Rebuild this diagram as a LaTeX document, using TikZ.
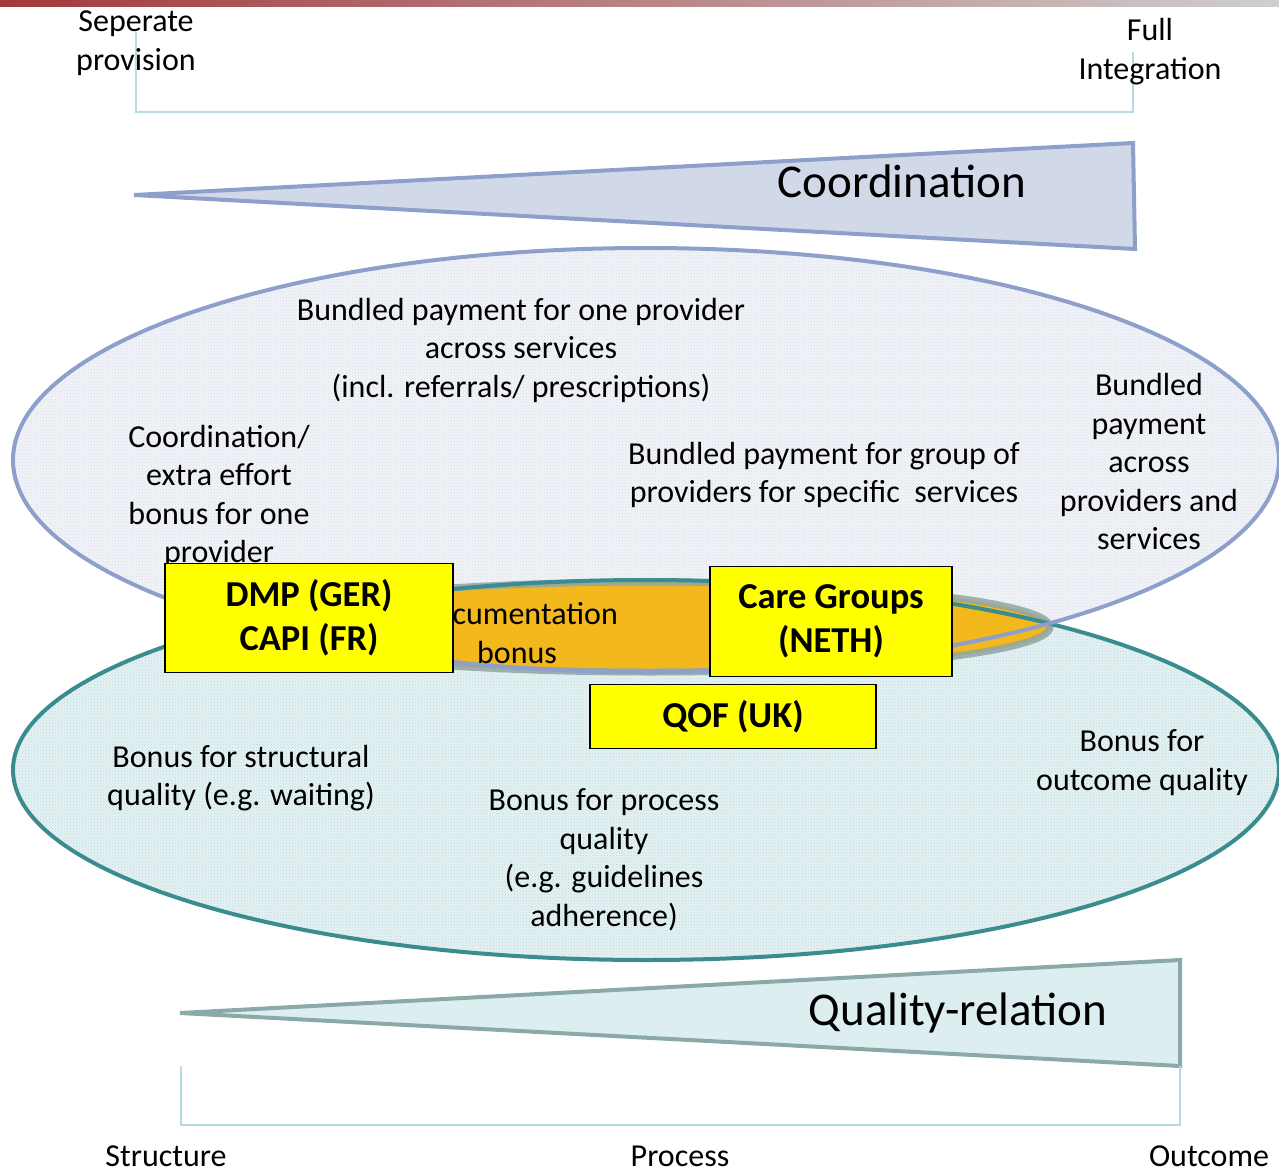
\documentclass[tikz,border=0pt]{standalone}
\usepackage{fontspec}
\setmainfont{Carlito}
\usetikzlibrary{patterns}
\definecolor{barred}{HTML}{A2383B}
\definecolor{bargray}{HTML}{CFCFCF}
\definecolor{bracketline}{HTML}{B5DCE0}
\definecolor{coordfill}{HTML}{D1D8E8}
\definecolor{coordline}{HTML}{8E9FCB}
\definecolor{upperfill}{HTML}{F2F4F8}
\definecolor{upperdots}{HTML}{D3DAE8}
\definecolor{lowerfill}{HTML}{E6F2F3}
\definecolor{lowerdots}{HTML}{B5D8DA}
\definecolor{lowerline}{HTML}{3A8C8E}
\definecolor{qualfill}{HTML}{DCEEEF}
\definecolor{qualline}{HTML}{8BA9A9}
\definecolor{orangefill}{HTML}{F2B81C}
\definecolor{orangeglow}{HTML}{8FA6A4}
\definecolor{boxyellow}{HTML}{FFFF00}
\tikzset{
  lbl/.style={align=center, inner sep=0pt, font=\fontsize{32}{38.5}\selectfont},
  bigtitle/.style={inner sep=0pt, font=\fontsize{47}{56}\selectfont},
  countrybox/.style={draw=black, line width=1.8pt, fill=boxyellow, align=center,
    inner sep=0pt, font=\fontsize{36.5}{44}\selectfont\bfseries},
  bracket/.style={draw=bracketline, line width=2.2pt},
}
\begin{document}
\begin{tikzpicture}[x=1pt,y=-1pt]
\useasboundingbox (0,0) rectangle (1279,1172);

% header band
\shade[left color=barred, right color=bargray] (0,0) rectangle (1279,7);

% integration scale
\coordinate (tl0) at (136,32);
\coordinate (tl1) at (136,112);
\coordinate (tr1) at (1133,112);
\coordinate (tr0) at (1133,52);
\draw[bracket] (tl0) -- (tl1) -- (tr1) -- (tr0);
\node[lbl] (sep) at (136,43) {Seperate\\provision};
\node[lbl] (full) at (1150,51.5) {Full\\Integration};

% coordination wedge
\draw[fill=coordfill, draw=coordline, line width=4pt, line join=miter]
  (134,195) -- (1133,143) -- (1135,249) -- cycle;
\node[bigtitle] (coord) at (902,181) {Coordination};

% the two ellipses: fills
\fill[upperfill] (646,460) ellipse [x radius=633pt, y radius=212pt];
\fill[pattern=crosshatch dots, pattern color=upperdots] (646,460) ellipse [x radius=633pt, y radius=212pt];
\fill[lowerfill] (646,770) ellipse [x radius=633pt, y radius=190pt];
\fill[pattern=crosshatch dots, pattern color=lowerdots] (646,770) ellipse [x radius=633pt, y radius=190pt];

% overlap region
\draw[fill=orangefill, draw=orangeglow, line width=7pt, draw opacity=0.85]
  (650,627) ellipse [x radius=400pt, y radius=45pt];

% ellipse outlines
\draw[lowerline, line width=4pt] (646,770) ellipse [x radius=633pt, y radius=190pt];
\draw[coordline, line width=4pt] (646,460) ellipse [x radius=633pt, y radius=212pt];

% payment texts
\node[lbl] (onebundle) at (521,350) {Bundled payment for one provider\\across services\\(incl. referrals/ prescriptions)};
\node[lbl] (effort) at (219,496.5) {Coordination/\\extra effort\\bonus for one\\provider};
\node[lbl] (group) at (824,475) {Bundled payment for group of\\providers for specific\ \ services};
\node[lbl] (across) at (1149,462) {Bundled\\payment\\across\\providers and\\services};

% quality texts
\node[lbl] (struct) at (241,778) {Bonus for structural\\quality (e.g. waiting)};
\node[lbl] (proc) at (604,859.5) {Bonus for process\\quality\\(e.g. guidelines\\adherence)};
\node[lbl] (outc) at (1142,762.5) {Bonus for\\outcome quality};

% documentation bonus, partly covered by the DMP box
\node[lbl] (docu) at (517,633) {Documentation\\bonus};

% country programmes
\node[countrybox, minimum width=288pt, minimum height=109pt] (dmp) at (309,618) {DMP (GER)\\CAPI (FR)};
\node[countrybox, minimum width=242pt, minimum height=110pt] (care) at (831,621.5) {Care Groups\\(NETH)};
\node[countrybox, minimum width=286pt, minimum height=64pt] (qof) at (733,716.5) {QOF (UK)};

% quality-relation wedge
\draw[fill=qualfill, draw=qualline, line width=4pt, line join=miter]
  (180,1013) -- (1180,960) -- (1180,1066) -- cycle;
\node[bigtitle] (qual) at (958,1013) {Quality-relation};

% quality scale
\coordinate (bl0) at (181,1066);
\coordinate (bl1) at (181,1125);
\coordinate (br1) at (1180,1125);
\coordinate (br0) at (1180,1066);
\draw[bracket] (bl0) -- (bl1) -- (br1) -- (br0);
\node[lbl] (structure) at (166,1156) {Structure};
\node[lbl] (process) at (680,1156) {Process};
\node[lbl] (outcome) at (1209,1156) {Outcome};
\end{tikzpicture}
\end{document}
